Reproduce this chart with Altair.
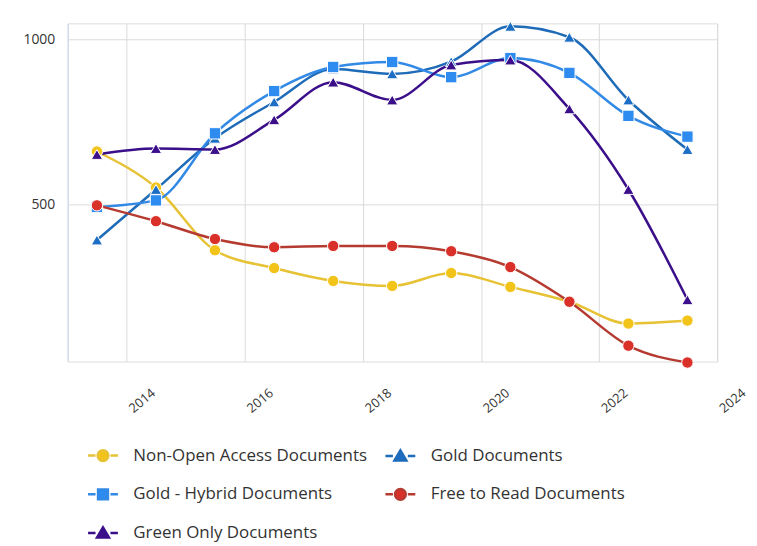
import altair as alt
import pandas as pd

# ---- data ----
years = [2013, 2014, 2015, 2016, 2017, 2018, 2019, 2020, 2021, 2022, 2023]
series_names = [
    "Non-Open Access Documents",
    "Gold Documents",
    "Gold - Hybrid Documents",
    "Free to Read Documents",
    "Green Only Documents",
]
non_open = [660, 551, 361, 307, 268, 253, 292, 250, 205, 139, 148]
gold = [392, 545, 700, 810, 910, 895, 932, 1039, 1006, 816, 666]
hybrid = [492, 512, 715, 843, 916, 931, 885, 943, 898, 768, 705]
free_read = [497, 449, 395, 370, 374, 374, 358, 310, 205, 72, 21]
green = [651, 669, 666, 756, 870, 816, 922, 937, 789, 545, 211]

tick_years = [2014, 2016, 2018, 2020, 2022, 2024]
y_ticks = [500, 1000]

marker_colors = ["#F2C318", "#1C6EC4", "#2E8BEF", "#D9302A", "#3B0E8A"]
line_colors = ["#E6C234", "#1E6BB8", "#338AE6", "#B53A30", "#3B0E8A"]
marker_shapes = ["circle", "triangle-up", "square", "circle", "triangle-up"]

# legend symbols: short line dashes on both sides of the marker
_dash = "M-1,0H-0.5M0.5,0H1"
_circle = "M0.36,0A0.36,0.36,0,1,1,-0.36,0A0.36,0.36,0,1,1,0.36,0Z"
_square = "M-0.33,-0.33H0.33V0.33H-0.33Z"
_tri = "M0,-0.38L0.4,0.3H-0.4Z"
legend_shapes = [_dash + _circle, _dash + _tri, _dash + _square, _dash + _circle, _dash + _tri]

rows = []
for name, vals in zip(series_names, [non_open, gold, hybrid, free_read, green]):
    for yr, v in zip(years, vals):
        rows.append({"series": name, "date": f"{yr}-07-01", "value": v})
df = pd.DataFrame(rows)

FONT = "Open Sans"

x_enc = alt.X(
    "date:T",
    scale=alt.Scale(
        domain=[alt.DateTime(year=2013, month=1, date=1), alt.DateTime(year=2024, month=1, date=1)],
        nice=False,
    ),
    axis=alt.Axis(
        values=[alt.DateTime(year=y, month=1, date=1) for y in tick_years],
        format="%Y",
        title=None,
        labelAngle=-40,
        labelAlign="left",
        labelBaseline="top",
        labelPadding=44,
        labelFlush=False,
        labelFontSize=13,
        labelColor="#333333",
        labelFont=FONT,
        ticks=False,
        domain=False,
        grid=True,
        gridColor="#dadada",
    ),
)
y_enc = alt.Y(
    "value:Q",
    scale=alt.Scale(domain=[24, 1048], nice=False, zero=False),
    axis=alt.Axis(
        values=y_ticks,
        format="d",
        title=None,
        ticks=False,
        labelPadding=13,
        labelFontSize=14,
        labelColor="#333333",
        labelFont=FONT,
        domainColor="#ccd6eb",
        gridColor="#dadada",
        minExtent=55,
    ),
)

base = alt.Chart(df)

lines = base.mark_line(interpolate="monotone", strokeWidth=2.5).encode(
    x=x_enc,
    y=y_enc,
    color=alt.Color("series:N", scale=alt.Scale(domain=series_names, range=line_colors), legend=None),
)

points = base.mark_point(filled=True, opacity=1, size=130, stroke="white", strokeWidth=1).encode(
    x=x_enc,
    y=y_enc,
    color=alt.Color("series:N", scale=alt.Scale(domain=series_names, range=marker_colors), legend=None),
    shape=alt.Shape("series:N", scale=alt.Scale(domain=series_names, range=marker_shapes), legend=None),
)

leg = alt.Legend(
    title=None,
    orient="none",
    legendX=19,
    legendY=418,
    direction="horizontal",
    columns=2,
    labelFontSize=17,
    labelFont=FONT,
    labelColor="#333333",
    labelLimit=400,
    symbolSize=900,
    symbolStrokeWidth=2.5,
    symbolOpacity=1,
    labelOffset=14,
    rowPadding=12,
    columnPadding=12,
)

legend_layer = base.mark_point(filled=True, opacity=1, size=900, strokeWidth=2.5).encode(
    x=x_enc,
    y=y_enc,
    color=alt.Color("series:N", scale=alt.Scale(domain=series_names, range=marker_colors), legend=leg),
    stroke=alt.Stroke("series:N", scale=alt.Scale(domain=series_names, range=line_colors), legend=leg),
    shape=alt.Shape("series:N", scale=alt.Scale(domain=series_names, range=legend_shapes), legend=leg),
).transform_filter("false")

chart = (
    alt.layer(lines, points, legend_layer)
    .resolve_scale(color="independent", shape="independent", stroke="independent")
    .properties(width=653, height=340, padding={"left": 5, "top": 10, "right": 0, "bottom": 0})
    .configure_view(stroke=None)
    .configure(font=FONT, background="white")
)

chart.save("out.html", embed_options={"renderer": "svg", "actions": False})
